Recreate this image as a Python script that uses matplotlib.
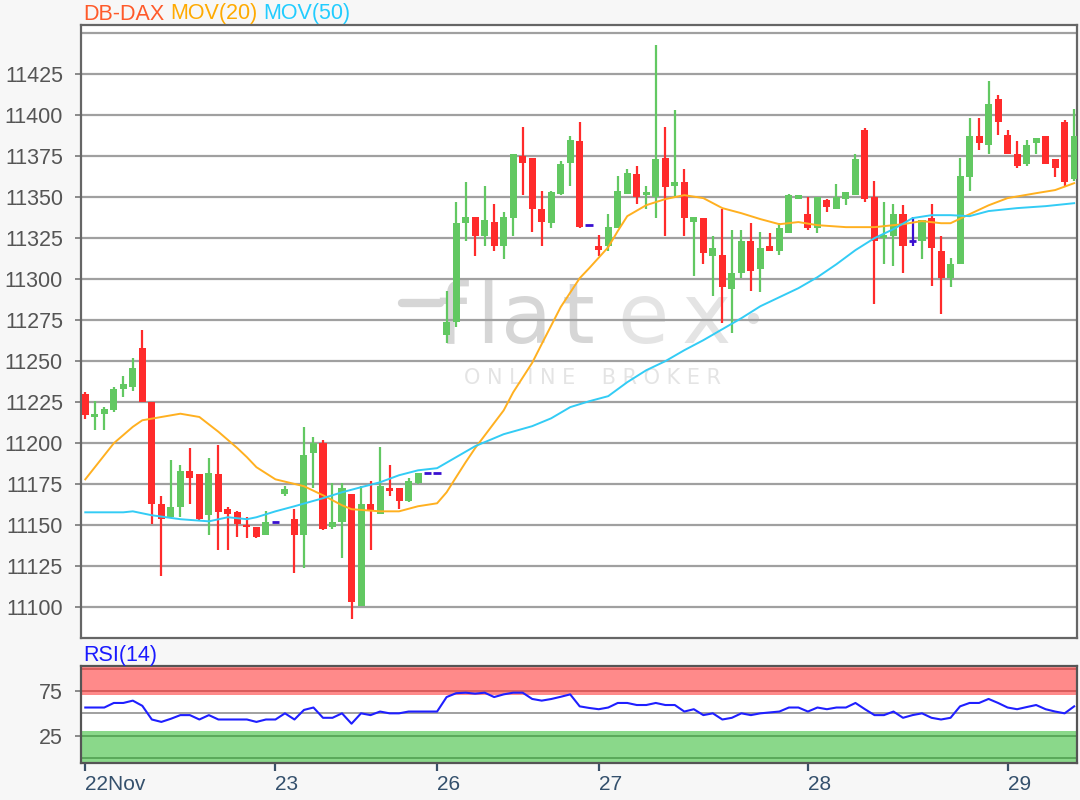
import numpy as np
import matplotlib.pyplot as plt

plt.rcParams['font.family'] = ['Liberation Sans', 'DejaVu Sans']

# hourly candles, DB-DAX 22 - 29 Nov
opens = [11230, 11216, 11218, 11220, 11233, 11234, 11258, 11225, 11163, 11155,
         11161, 11183, 11181, 11156, 11181, 11160, 11158, 11150, 11149, 11144,
         11152, 11169, 11154, 11144, 11194, 11200, 11149, 11152, 11169, 11101,
         11163, 11157, 11173, 11173, 11165, 11176, 11182, 11182, 11266, 11274,
         11334, 11338, 11326, 11335, 11320, 11337, 11375, 11374, 11343, 11334,
         11352, 11371, 11384, 11333, 11320, 11320, 11331, 11352, 11364, 11351,
         11350, 11374, 11357, 11359, 11335, 11337, 11314, 11315, 11294, 11304,
         11323, 11306, 11320, 11317, 11328, 11349, 11340, 11331, 11348, 11343,
         11349, 11351, 11391, 11350, 11325, 11326, 11340, 11323, 11323, 11337,
         11317, 11301, 11309, 11362, 11387, 11382, 11410, 11388, 11376, 11370,
         11383, 11387, 11373, 11396, 11361]
highs = [11231, 11226, 11222, 11234, 11241, 11252, 11269, 11225, 11168, 11190,
         11187, 11197, 11181, 11191, 11199, 11161, 11159, 11155, 11149, 11159,
         11152, 11174, 11160, 11210, 11204, 11202, 11176, 11176, 11169, 11174,
         11177, 11198, 11187, 11173, 11179, 11182, 11182, 11182, 11293, 11347,
         11359, 11338, 11357, 11346, 11341, 11376, 11393, 11374, 11354, 11354,
         11372, 11387, 11396, 11333, 11327, 11340, 11363, 11367, 11369, 11357,
         11443, 11393, 11403, 11367, 11338, 11337, 11326, 11343, 11330, 11330,
         11334, 11329, 11328, 11334, 11352, 11351, 11350, 11350, 11349, 11358,
         11353, 11376, 11392, 11360, 11347, 11346, 11345, 11338, 11336, 11346,
         11326, 11313, 11374, 11398, 11398, 11421, 11412, 11391, 11384, 11385,
         11386, 11387, 11373, 11397, 11404]
lows = [11215, 11208, 11208, 11219, 11228, 11232, 11225, 11151, 11119, 11155,
        11155, 11163, 11153, 11144, 11135, 11135, 11143, 11142, 11142, 11144,
        11152, 11168, 11121, 11124, 11173, 11147, 11148, 11130, 11093, 11101,
        11135, 11157, 11168, 11160, 11164, 11175, 11182, 11182, 11261, 11271,
        11323, 11314, 11320, 11317, 11312, 11326, 11351, 11329, 11320, 11331,
        11351, 11357, 11331, 11333, 11314, 11317, 11331, 11352, 11346, 11343,
        11337, 11326, 11350, 11326, 11302, 11309, 11290, 11273, 11267, 11301,
        11293, 11292, 11317, 11315, 11328, 11349, 11330, 11328, 11341, 11343,
        11345, 11351, 11347, 11285, 11309, 11308, 11304, 11320, 11312, 11296,
        11279, 11295, 11309, 11354, 11379, 11376, 11388, 11376, 11368, 11369,
        11376, 11370, 11362, 11357, 11360]
closes = [11217, 11218, 11221, 11233, 11236, 11246, 11225, 11163, 11154, 11161,
          11183, 11179, 11154, 11182, 11158, 11157, 11151, 11149, 11143, 11152,
          11152, 11172, 11144, 11193, 11200, 11148, 11152, 11173, 11103, 11163,
          11159, 11174, 11171, 11165, 11177, 11182, 11182, 11182, 11274, 11334,
          11338, 11326, 11336, 11320, 11338, 11376, 11371, 11343, 11335, 11353,
          11370, 11385, 11332, 11333, 11318, 11332, 11354, 11365, 11350, 11353,
          11373, 11356, 11359, 11337, 11338, 11316, 11319, 11295, 11304, 11323,
          11305, 11319, 11317, 11331, 11351, 11351, 11331, 11350, 11344, 11350,
          11353, 11373, 11349, 11323, 11327, 11340, 11320, 11323, 11336, 11319,
          11301, 11309, 11363, 11387, 11383, 11407, 11396, 11376, 11369, 11382,
          11386, 11370, 11368, 11359, 11387]

# moving averages
ma20_idx = [0, 3, 5, 6, 8, 10, 12, 14, 16, 17, 18, 20, 23, 25, 27, 28, 31, 33, 35, 37,
            38, 39, 40, 41, 44, 45, 47, 48, 50, 52, 53, 55, 56, 57, 59, 61, 63, 65, 67, 69,
            71, 73, 75, 77, 80, 83, 86, 88, 90, 91, 93, 95, 97, 100, 102, 104]
ma20 = [11178, 11200, 11210, 11214, 11216, 11218, 11216, 11207, 11197, 11191.5,
        11185.4, 11178, 11173.8, 11168.3, 11162.2, 11159.8, 11158.5, 11158.5, 11161.6, 11163.4,
        11170.1, 11179.3, 11188.4, 11197, 11220, 11231, 11249, 11260.4, 11283, 11300.6,
        11306.7, 11319.5, 11329.3, 11338.4, 11345.1, 11348.8, 11351.2, 11349.4, 11343.3, 11340.2,
        11336.6, 11333.5, 11334.8, 11332.9, 11331.7, 11331.7, 11333.5, 11335.4, 11334.1, 11334.1,
        11339.6, 11345, 11349.4, 11352.4, 11354.3, 11358.5]
ma50_idx = [0, 4, 5, 7, 10, 13, 15, 17, 18, 20, 22, 25, 27, 29, 31, 33, 35, 37, 39, 41,
            44, 47, 49, 51, 53, 55, 57, 59, 61, 63, 65, 67, 69, 71, 73, 75, 77, 79, 81, 83,
            85, 87, 89, 91, 93, 95, 98, 101, 104]
ma50 = [11157.9, 11157.9, 11158.5, 11156.1, 11153.7, 11152.4, 11154.9, 11153.7, 11154.9, 11158.5,
        11161.6, 11166.5, 11170.1, 11173.2, 11176.2, 11180.5, 11183.5, 11184.8, 11191.5, 11198.2,
        11205.5, 11210.4, 11215.2, 11222, 11225.6, 11228.7, 11237.2, 11244.5, 11250, 11256.7,
        11262.8, 11269.5, 11276.2, 11283.5, 11289, 11294.5, 11301.2, 11309.1, 11317.7, 11325,
        11330.5, 11337.2, 11339, 11339, 11338.4, 11341.5, 11343.3, 11344.5, 11346.3]

rsi = [56.5, 56.5, 56.5, 61.6, 61.6, 64.2, 58.4, 43.1, 40.4, 43.9,
       48, 48, 43.1, 48, 43.1, 43.1, 43.1, 43.1, 40.4, 43.1,
       43.1, 50, 43.1, 53.8, 56.5, 45, 45, 50, 38.4, 50,
       48, 52, 50, 50, 52, 52, 52, 52, 68.2, 72.5,
       73.1, 72, 73.1, 68.2, 71.2, 73.1, 73.1, 66.1, 64.2, 66,
       68.5, 71.2, 57.8, 56, 54.6, 56.5, 61.6, 61.6, 59.3, 59.3,
       61.6, 59.3, 59.3, 52, 54.6, 48, 50, 43.1, 45, 50,
       48, 50, 51, 52, 56.5, 56.5, 52, 56.5, 54.6, 56.5,
       56.5, 61.6, 54.6, 48, 48, 52, 45, 48, 50, 45,
       43.1, 45, 57.8, 61.6, 61.6, 66.1, 61.6, 56.5, 54.6, 57,
       59.3, 54.6, 52, 50, 57.8]

day_idx = [0, 20, 37, 54, 76, 97]
day_lbl = ['22Nov', '23', '26', '27', '28', '29']
price_ticks = list(range(11100, 11426, 25))

RED = '#ff2b2b'
GREEN = '#62c862'
BLUE = '#3a10d0'

W, H = 1080, 800
fig = plt.figure(figsize=(W / 100, H / 100), dpi=100, facecolor='#f7f7f7')


def box(l, t, r, b):
    return [l / W, 1 - b / H, (r - l) / W, (b - t) / H]


ax = fig.add_axes(box(81, 25, 1077, 638))
rs = fig.add_axes(box(81, 665.5, 1077, 762.5))

x = np.arange(len(closes))
o = np.array(opens, float)
c = np.array(closes, float)
hi = np.array(highs, float)
lo = np.array(lows, float)

for mask, col in ((c > o, GREEN), (c < o, RED)):
    ax.vlines(x[mask], lo[mask], hi[mask], color=col, lw=1.6, zorder=3)
    ax.bar(x[mask], np.maximum(np.abs(c - o)[mask], 1.0), bottom=np.minimum(o, c)[mask],
           width=0.74, color=col, linewidth=0, zorder=4)
dj = c == o
ax.vlines(x[dj], lo[dj], hi[dj], color=BLUE, lw=1.6, zorder=3)
ax.hlines(c[dj], x[dj] - 0.4, x[dj] + 0.4, color=BLUE, lw=2, zorder=4)

ax.plot(ma20_idx, ma20, color='#ffb020', lw=1.4, zorder=5)
ax.plot(ma50_idx, ma50, color='#33ccf5', lw=1.4, zorder=5)

ax.set_xlim(-0.45, 104.3)
ax.set_ylim(11081.3, 11454.9)
ax.set_yticks(price_ticks)
ax.set_xticks([])
ax.grid(axis='y', color='#a0a0a0', lw=1.6)
ax.axhline(11450, color='#a0a0a0', lw=1.6, zorder=1.5)
ax.tick_params(axis='y', length=4, width=1.2, color='#777777', labelsize=15.5,
               labelcolor='#555555', pad=9)
ax.set_facecolor('white')

# watermark
wm = dict(transform=fig.transFigure, fontsize=60, family='DejaVu Sans',
          va='baseline', ha='center', zorder=0.5)
for ch, px, col in (('f', 452, '#d6d6d6'), ('l', 488, '#d6d6d6'), ('a', 527, '#d6d6d6'),
                    ('t', 578, '#d6d6d6'), ('e', 643, '#e4e4e4'), ('x', 706, '#e4e4e4')):
    ax.text(px / W, 1 - 343 / H, ch, color=col, **wm)
ax.plot([402 / W, 440 / W], [1 - 303 / H, 1 - 303 / H], transform=fig.transFigure,
        color='#d6d6d6', lw=6, solid_capstyle='round', zorder=0.5)
ax.plot([753 / W], [1 - 318 / H], 'o', ms=7, color='#e0e0e0', transform=fig.transFigure,
        zorder=0.5)
ax.text(592 / W, 1 - 378 / H, 'O N L I N E    B R O K E R', transform=fig.transFigure,
        fontsize=15, family='DejaVu Sans', color='#e4e4e4', ha='center', va='center',
        zorder=0.5)

for s in ax.spines.values():
    s.set_color('#666666')
    s.set_linewidth(1.6)

# RSI panel
rs.axhspan(70, 104, color='#ff8a8a', lw=0)
rs.axhspan(-6, 30, color='#8ad88a', lw=0)
for lvl, col in ((100, '#d85c5c'), (75, '#d85c5c'), (25, '#5aa85a'), (0, '#5aa85a')):
    rs.axhline(lvl, color=col, lw=1.4)
rs.axhline(50, color='#a0a0a0', lw=1.4)
rs.plot(x, rsi, color='#1f1fff', lw=1.5, zorder=5)
rs.set_xlim(-0.45, 104.3)
rs.set_ylim(-5, 103.5)
rs.set_yticks([25, 75])
rs.set_xticks(day_idx)
rs.set_xticklabels(day_lbl, ha='left')
rs.tick_params(axis='y', length=4, width=1.2, color='#777777', labelsize=15.5,
               labelcolor='#555555', pad=9)
rs.tick_params(axis='x', length=6, width=1.6, color='#3a5068', labelsize=15,
               labelcolor='#34506c', pad=3)
for s in rs.spines.values():
    s.set_color('#555555')
    s.set_linewidth(1.6)

# titles
ty = 1 - 14 / H
fig.text(83 / W, ty, 'DB-DAX', color='#ff5a2a', fontsize=15.5, va='center')
fig.text(170 / W, ty, 'MOV(20)', color='#ffaa00', fontsize=15.5, va='center')
fig.text(263 / W, ty, 'MOV(50)', color='#22ccff', fontsize=15.5, va='center')
fig.text(83 / W, 1 - 655 / H, 'RSI(14)', color='#1a1aff', fontsize=15.5, va='center')

fig.savefig('out.png', dpi=100, facecolor=fig.get_facecolor())
